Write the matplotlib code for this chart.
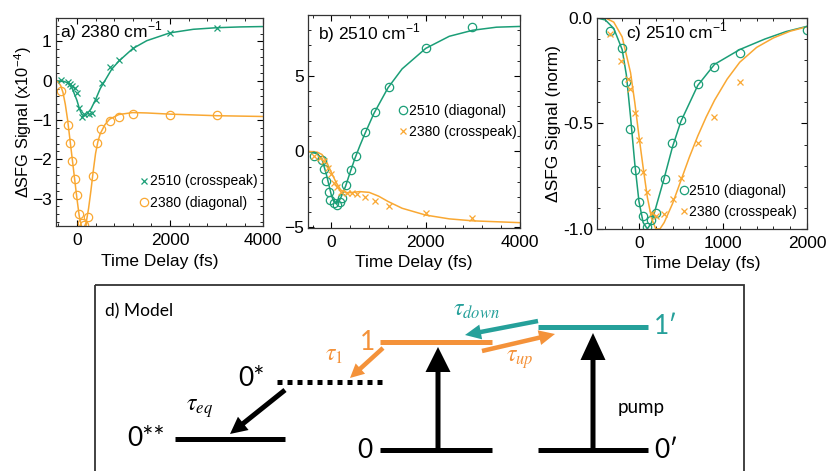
import numpy as np
import matplotlib
matplotlib.use("Agg")
import matplotlib.pyplot as plt
from matplotlib.ticker import AutoMinorLocator, MultipleLocator
from matplotlib.patches import Rectangle

plt.rcParams['font.family'] = ['Liberation Sans', 'DejaVu Sans']
plt.rcParams['mathtext.fontset'] = 'stix'

GREEN = '#1b9e77'
ORANGE = '#f9a833'
D_ORANGE = '#f4923a'
D_TEAL = '#25a09a'

# ---- panel a) 2380 cm-1 ----
a_cross_t = [-350, -200, -150, -100, -50, 0, 50, 100, 150, 250, 320, 400, 530, 720, 900, 1200, 2000, 3000]
a_cross_y = [0.03, -0.02, -0.08, -0.13, -0.18, -0.3, -0.7, -0.92, -0.85, -0.84, -0.82, -0.5, -0.05, 0.34, 0.53, 0.83, 1.22, 1.34]
a_circ_t = [-350, -200, -150, -100, -50, 0, 50, 100, 150, 240, 340, 430, 520, 710, 910, 1200, 2000, 3000]
a_circ_y = [-0.27, -1.13, -1.58, -2.04, -2.49, -2.9, -3.38, -3.63, -3.68, -3.48, -2.42, -1.58, -1.23, -1.02, -0.92, -0.84, -0.88, -0.88]
a_fitg_t = [-450, -300, -200, -100, 0, 50, 100, 150, 200, 300, 400, 500, 600, 750, 900, 1200, 1500, 2000, 2500, 3000, 3500, 4000]
a_fitg_y = [0, -0.01, -0.05, -0.2, -0.5, -0.7, -0.85, -0.9, -0.87, -0.72, -0.48, -0.2, 0.0, 0.3, 0.5, 0.82, 1.02, 1.22, 1.31, 1.35, 1.37, 1.38]
a_fito_t = [-450, -400, -350, -300, -250, -200, -150, -100, -50, 0, 50, 100, 150, 200, 250, 300, 350, 400, 450, 500, 600, 700, 900, 1200, 1500, 2000, 3000, 4000]
a_fito_y = [0, -0.04, -0.12, -0.3, -0.6, -1.0, -1.5, -2.0, -2.5, -3.0, -3.45, -3.72, -3.75, -3.6, -3.25, -2.8, -2.3, -1.85, -1.55, -1.35, -1.12, -0.98, -0.86, -0.81, -0.82, -0.85, -0.89, -0.91]

# ---- panel b) 2510 cm-1 ----
b_circ_t = [-374, -198, -148, -106, -56, -21, 49, 120, 176, 226, 317, 409, 515, 720, 917, 1213, 2004, 2991]
b_circ_y = [-0.29, -0.58, -1.17, -1.95, -2.68, -3.23, -3.43, -3.54, -3.34, -3.05, -2.21, -1.24, -0.33, 1.31, 2.59, 4.25, 6.84, 8.19]
b_cross_t = [-374, -233, -148, -78, -7, 64, 120, 205, 331, 437, 543, 720, 917, 1213, 2004, 2991]
b_cross_y = [-0.29, -0.44, -0.66, -1.06, -1.5, -2.06, -2.35, -2.65, -2.77, -2.77, -2.79, -2.99, -3.27, -3.61, -4.05, -4.42]
b_fitg_t = [-500, -300, -200, -100, 0, 50, 100, 150, 200, 300, 400, 500, 600, 700, 900, 1200, 1500, 2000, 2500, 3000, 3500, 4000]
b_fitg_y = [0, -0.15, -0.5, -1.6, -2.9, -3.3, -3.45, -3.35, -3.05, -2.3, -1.35, -0.45, 0.35, 1.1, 2.5, 4.2, 5.45, 6.8, 7.6, 8.0, 8.2, 8.25]
b_fito_t = [-500, -300, -200, -100, 0, 100, 200, 300, 400, 600, 800, 1000, 1200, 1500, 2000, 2500, 3000, 4000]
b_fito_y = [0, -0.05, -0.2, -0.7, -1.4, -2.05, -2.55, -2.72, -2.72, -2.65, -2.7, -2.95, -3.3, -3.75, -4.2, -4.45, -4.58, -4.7]

# ---- panel c) 2510 cm-1, normalised ----
c_circ_t = [-349, -198, -151, -103, -52, -4, 48, 95, 139, 198, 306, 397, 500, 706, 897, 1198, 2000]
c_circ_y = [-0.063, -0.143, -0.306, -0.525, -0.721, -0.873, -0.94, -0.99, -0.96, -0.924, -0.765, -0.594, -0.483, -0.314, -0.235, -0.166, -0.057]
c_cross_t = [-349, -218, -131, -103, -52, 0, 48, 99, 155, 198, 298, 405, 500, 702, 889, 1198]
c_cross_y = [-0.076, -0.203, -0.29, -0.338, -0.452, -0.578, -0.731, -0.826, -0.924, -0.94, -0.927, -0.857, -0.757, -0.591, -0.472, -0.306]
c_fitg_t = [-500, -400, -300, -200, -150, -100, -50, 0, 50, 100, 150, 200, 300, 400, 500, 700, 900, 1200, 1500, 1750, 2000]
c_fitg_y = [0, -0.01, -0.05, -0.15, -0.27, -0.47, -0.69, -0.87, -0.97, -1.0, -0.97, -0.9, -0.76, -0.61, -0.49, -0.32, -0.22, -0.15, -0.1, -0.065, -0.04]
c_fito_t = [-500, -400, -300, -200, -100, -50, 0, 50, 100, 150, 200, 250, 300, 400, 500, 600, 700, 800, 900, 1050, 1200, 1400, 1600, 1800, 2000]
c_fito_y = [0, 0, -0.02, -0.09, -0.26, -0.4, -0.56, -0.71, -0.85, -0.95, -1.0, -1.0, -0.97, -0.88, -0.77, -0.66, -0.56, -0.47, -0.39, -0.29, -0.21, -0.14, -0.095, -0.063, -0.042]

fig = plt.figure(figsize=(8.32, 4.71), dpi=100)

# diagram canvas in pixel units (drawn first, under the panels)
axd = fig.add_axes([0, 0, 1, 1])
axd.set_xlim(0, 832)
axd.set_ylim(471, 0)
axd.axis('off')


def style_axes(ax, xmaj, ymaj):
    ax.xaxis.set_major_locator(MultipleLocator(xmaj))
    ax.yaxis.set_major_locator(MultipleLocator(ymaj))
    ax.xaxis.set_minor_locator(AutoMinorLocator(5))
    ax.yaxis.set_minor_locator(AutoMinorLocator(5))
    ax.tick_params(which='both', direction='in', top=True, right=True, labelsize=12.5)
    ax.tick_params(axis='x', pad=5)
    ax.tick_params(axis='y', pad=3)
    ax.tick_params(which='major', length=4, width=0.8)
    ax.tick_params(which='minor', length=2, width=0.6)
    for s in ax.spines.values():
        s.set_linewidth(0.9)
        s.set_color('#333333')
    ax.set_xlabel('Time Delay (fs)', fontsize=12.5, labelpad=4)


ms_o = dict(marker='o', ms=6, mfc='none', mew=0.9, linestyle='none')
ms_x = dict(marker='x', ms=4.5, mew=0.9, linestyle='none')

# a)
ax1 = fig.add_axes([0.0673, 0.520, 0.249, 0.442])
ax1.plot(a_fitg_t, a_fitg_y, color=GREEN, lw=1.1)
ax1.plot(a_fito_t, a_fito_y, color=ORANGE, lw=1.1)
ax1.plot(a_cross_t, a_cross_y, color=GREEN, label='2510 (crosspeak)', **ms_x)
ax1.plot(a_circ_t, a_circ_y, color=ORANGE, label='2380 (diagonal)', **ms_o)
ax1.set_xlim(-450, 4000)
ax1.set_ylim(-3.7, 1.6)
style_axes(ax1, 2000, 1)
ax1.set_ylabel('ΔSFG Signal (x10$^{\\mathregular{-4}}$)', fontsize=11.8, labelpad=-1)
ax1.text(0.02, 0.935, 'a) 2380 cm$^{\\mathregular{-1}}$', transform=ax1.transAxes, fontsize=12.5, va='center')
ax1.legend(loc='lower right', bbox_to_anchor=(1.02, 0.03), frameon=False, fontsize=10,
           handlelength=0.6, handletextpad=0.1, labelspacing=0.55, borderpad=0.2)

# b)
ax2 = fig.add_axes([0.370, 0.516, 0.255, 0.452])
ax2.plot(b_fitg_t, b_fitg_y, color=GREEN, lw=1.1)
ax2.plot(b_fito_t, b_fito_y, color=ORANGE, lw=1.1)
ax2.plot(b_circ_t, b_circ_y, color=GREEN, label='2510 (diagonal)', **ms_o)
ax2.plot(b_cross_t, b_cross_y, color=ORANGE, label='2380 (crosspeak)', **ms_x)
ax2.set_xlim(-500, 4000)
ax2.set_ylim(-5.05, 9)
style_axes(ax2, 2000, 5)
ax2.text(0.05, 0.915, 'b) 2510 cm$^{\\mathregular{-1}}$', transform=ax2.transAxes, fontsize=12.5, va='center')
ax2.legend(loc='center right', bbox_to_anchor=(1.03, 0.50), frameon=False, fontsize=10,
           handlelength=0.6, handletextpad=0.1, labelspacing=0.55, borderpad=0.2)

# c)
ax3 = fig.add_axes([0.7175, 0.514, 0.2524, 0.448])
ax3.plot(c_fitg_t, c_fitg_y, color=GREEN, lw=1.1)
ax3.plot(c_fito_t, c_fito_y, color=ORANGE, lw=1.1)
ax3.plot(c_circ_t, c_circ_y, color=GREEN, label='2510 (diagonal)', **ms_o)
ax3.plot(c_cross_t, c_cross_y, color=ORANGE, label='2380 (crosspeak)', **ms_x)
ax3.set_xlim(-500, 2000)
ax3.set_ylim(-1.0, 0.0)
style_axes(ax3, 1000, 0.5)
ax3.yaxis.set_major_formatter(matplotlib.ticker.FormatStrFormatter('%.1f'))
ax3.set_ylabel('ΔSFG Signal (norm)', fontsize=12.5, labelpad=1)
ax3.text(0.14, 0.93, 'c) 2510 cm$^{\\mathregular{-1}}$', transform=ax3.transAxes, fontsize=12.5, va='center')
ax3.legend(loc='lower right', bbox_to_anchor=(1.0, 0.0), frameon=False, fontsize=10,
           handlelength=0.6, handletextpad=0.1, labelspacing=0.55, borderpad=0.2)

# ---- d) model diagram ----
axd.add_patch(Rectangle((95, 285), 649, 200, fill=False, lw=1.3, ec='#333333', clip_on=False))
dfont = ['Lato', 'DejaVu Sans']
axd.text(105, 311, 'd) Model', fontsize=12.5, family=dfont, va='center')

lw_lvl = 3.6
axd.plot([175, 285], [439, 439], color='black', lw=lw_lvl, solid_capstyle='butt')
axd.plot([277, 385], [382, 382], color='black', lw=lw_lvl, linestyle=(0, (1, 1)), dash_capstyle='butt')
axd.plot([380, 492], [342, 342], color=D_ORANGE, lw=lw_lvl, solid_capstyle='butt')
axd.plot([380, 492], [450, 450], color='black', lw=lw_lvl, solid_capstyle='butt')
axd.plot([538, 648], [327, 327], color=D_TEAL, lw=lw_lvl, solid_capstyle='butt')
axd.plot([538, 648], [450, 450], color='black', lw=lw_lvl, solid_capstyle='butt')

lbl = dict(fontsize=19, family=dfont, va='center')
axd.text(165, 439, '0**', ha='right', **lbl)
axd.text(265, 378, '0*', ha='right', **lbl)
axd.text(375, 343, '1', ha='right', color=D_ORANGE, **lbl)
axd.text(372, 450, '0', ha='right', **lbl)
axd.text(654, 327, '1\u2032', ha='left', color=D_TEAL, **lbl)
axd.text(654, 450, '0\u2032', ha='left', **lbl)
axd.text(641, 408, 'pump', fontsize=13.5, family=dfont, ha='center', va='center')

tau = dict(fontsize=17, ha='center', va='center')
axd.text(200, 409, r'$\tau_{eq}$', **tau)
axd.text(334, 355, r'$\tau_1$', color=D_ORANGE, **tau)
axd.text(477, 310, r'$\tau_{down}$', color=D_TEAL, **tau)
axd.text(520, 360, r'$\tau_{up}$', color=D_ORANGE, **tau)


def arrow(x0, y0, x1, y1, color, w, hw, hl):
    axd.arrow(x0, y0, x1 - x0, y1 - y0, width=w, head_width=hw, head_length=hl,
              length_includes_head=True, color=color, lw=0)


arrow(438, 450, 438, 347, 'black', 5, 25, 25)
arrow(593, 450, 593, 333, 'black', 5, 25, 27)
arrow(285, 390, 230, 434, 'black', 5, 17, 17)
arrow(383, 348, 350, 378, D_ORANGE, 4.5, 14, 14)
arrow(538, 321, 465, 335, D_TEAL, 4.5, 15, 16)
arrow(482, 351, 555, 334, D_ORANGE, 4.5, 15, 16)

fig.savefig('out.png', dpi=100)
